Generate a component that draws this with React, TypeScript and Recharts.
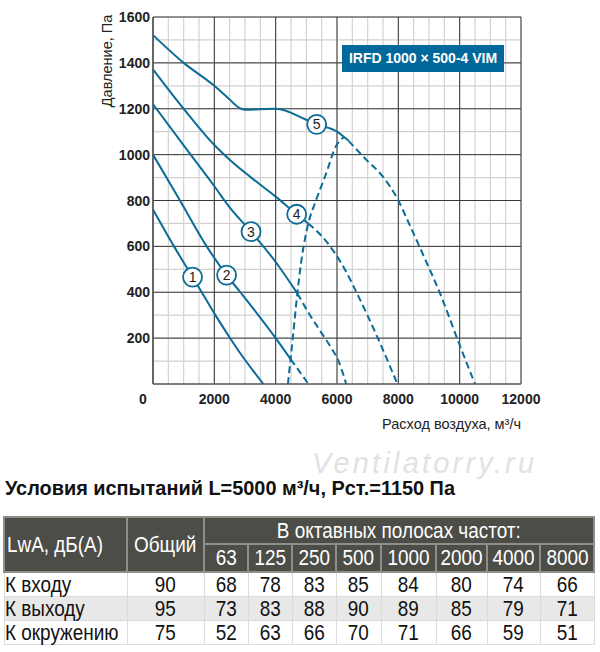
import { LineChart, Line, XAxis, YAxis, CartesianGrid, ReferenceDot } from "recharts";

// fan curves, airflow q (m3/h) vs static pressure p (Pa)
const curve1 = [
  { q: 0, p: 761 }, { q: 685, p: 600 }, { q: 1290, p: 466 }, { q: 1590, p: 400 },
  { q: 2000, p: 308 }, { q: 2500, p: 203 }, { q: 2840, p: 135 }, { q: 3600, p: 0 },
];
const curve2Solid = [
  { q: 0, p: 1000 }, { q: 880, p: 800 }, { q: 1750, p: 600 }, { q: 2400, p: 475 },
  { q: 2848, p: 400 }, { q: 4000, p: 200 }, { q: 4490, p: 108 },
];
const curve2Dash = [{ q: 4490, p: 108 }, { q: 4780, p: 54 }, { q: 5070, p: 0 }];
const curve3Solid = [
  { q: 0, p: 1220 }, { q: 1000, p: 1040 }, { q: 2000, p: 862 }, { q: 2500, p: 770 },
  { q: 3196, p: 664 }, { q: 4000, p: 532 }, { q: 4707, p: 395 },
];
const curve3Dash = [
  { q: 4707, p: 395 }, { q: 5120, p: 300 }, { q: 5500, p: 222 }, { q: 5800, p: 160 },
  { q: 6050, p: 100 }, { q: 6300, p: 0 },
];
const curve4Solid = [
  { q: 0, p: 1372 }, { q: 1000, p: 1200 }, { q: 2000, p: 1042 }, { q: 2500, p: 978 },
  { q: 3163, p: 904 }, { q: 4000, p: 817 }, { q: 4685, p: 740 }, { q: 5065, p: 700 },
];
const curve4Dash = [
  { q: 5065, p: 700 }, { q: 5500, p: 645 }, { q: 5935, p: 570 }, { q: 6300, p: 489 },
  { q: 6641, p: 398 }, { q: 7348, p: 195 }, { q: 7970, p: 0 },
];
const curve5Solid = [
  { q: 0, p: 1521 }, { q: 1000, p: 1400 }, { q: 2000, p: 1300 }, { q: 2500, p: 1240 },
  { q: 2800, p: 1205 }, { q: 3000, p: 1196 }, { q: 3500, p: 1198 }, { q: 4000, p: 1200 },
  { q: 5000, p: 1152 }, { q: 5337, p: 1132 }, { q: 6000, p: 1100 }, { q: 6230, p: 1077 },
  { q: 6380, p: 1060 },
];
const curve5Dash = [
  { q: 6380, p: 1060 }, { q: 6967, p: 976 }, { q: 7456, p: 911 }, { q: 8000, p: 800 },
  { q: 8272, p: 722 }, { q: 8800, p: 566 }, { q: 9360, p: 395 }, { q: 9980, p: 177 },
  { q: 10500, p: 0 },
];
const limitDash = [
  { q: 4400, p: 0 }, { q: 4550, p: 190 }, { q: 4707, p: 395 }, { q: 4830, p: 530 },
  { q: 5065, p: 700 }, { q: 5300, p: 795 }, { q: 5609, p: 904 }, { q: 5989, p: 1042 },
  { q: 6230, p: 1077 },
];

const markers = [
  { id: "1", q: 1290, p: 466 },
  { id: "2", q: 2400, p: 475 },
  { id: "3", q: 3196, p: 664 },
  { id: "4", q: 4685, p: 740 },
  { id: "5", q: 5337, p: 1132 },
];

const xTicks = [0, 2000, 4000, 6000, 8000, 10000, 12000];
const yTicks = [200, 400, 600, 800, 1000, 1200, 1400, 1600];
const xMinor = Array.from({ length: 24 }, (_, i) => (i + 1) * 500);
const yMinor = Array.from({ length: 16 }, (_, i) => (i + 1) * 100);

// noise table
const bands = ["63", "125", "250", "500", "1000", "2000", "4000", "8000"];
const rowNames = ["К входу", "К выходу", "К окружению"];
const totals = [90, 95, 75];
const inletLevels = [68, 78, 83, 85, 84, 80, 74, 66];
const outletLevels = [73, 83, 88, 90, 89, 85, 79, 71];
const ambientLevels = [52, 63, 66, 70, 71, 66, 59, 51];
const levels = [inletLevels, outletLevels, ambientLevels];
const colWidths = [123, 77, 44, 44, 44, 45, 55, 51, 53, 54];

const blue = "#0b6c97";
const sans = "'Liberation Sans', Arial, sans-serif";

const XTick = (props: any) => {
  const { x, y, payload } = props;
  const dx = payload.value === 0 ? -10 : 0;
  return (
    <text x={x + dx} y={y} dy="0.71em" textAnchor="middle" fontSize={14} fontWeight="bold" fontFamily={sans} fill="#222">
      {payload.value}
    </text>
  );
};

const YTick = (props: any) => {
  const { x, y, payload } = props;
  return (
    <text x={x} y={y} dy="0.36em" textAnchor="end" fontSize={14} fontWeight="bold" fontFamily={sans} fill="#222">
      {payload.value}
    </text>
  );
};

// condensed look: squeeze a normal sans horizontally
const Cond = ({ children, origin = "center" }: any) => (
  <span style={{ display: "inline-block", transform: "scaleX(0.86)", transformOrigin: origin, whiteSpace: "nowrap" }}>
    {children}
  </span>
);

const head = {
  background: "#4d4d48",
  color: "#fff",
  border: "2px solid #8e8e8a",
  fontWeight: "normal" as const,
  padding: 0,
  overflow: "visible",
};
const cell = { border: "1px solid #dcdcdc", padding: 0, textAlign: "center" as const, lineHeight: "23px", overflow: "visible" };

export default function App() {
  const solid = (data: any[], key: string) => (
    <Line key={key} data={data} dataKey="p" type="monotone" stroke={blue} strokeWidth={2} dot={false} isAnimationActive={false} />
  );
  const dashed = (data: any[], key: string) => (
    <Line key={key} data={data} dataKey="p" type="monotone" stroke={blue} strokeWidth={2} strokeDasharray="7 4" dot={false} isAnimationActive={false} />
  );

  return (
    <div style={{ position: "absolute", left: 0, top: 0, width: 600, height: 652, background: "#fff", overflow: "hidden" }}>
      <LineChart width={600} height={440} margin={{ top: 17, right: 79, bottom: 26, left: 0 }}>
        <CartesianGrid stroke="#d2d2d2" strokeWidth={1.2} verticalValues={xMinor} horizontalValues={yMinor} />
        <CartesianGrid stroke="#383838" strokeWidth={1} verticalValues={xTicks} horizontalValues={yTicks} />
        <XAxis
          dataKey="q"
          type="number"
          domain={[0, 12000]}
          ticks={xTicks}
          interval={0}
          tickLine={false}
          tickSize={8}
          tickMargin={2}
          height={30}
          axisLine={{ stroke: "#555", strokeWidth: 1.5 }}
          tick={<XTick />}
        />
        <YAxis
          type="number"
          domain={[0, 1600]}
          ticks={yTicks}
          interval={0}
          tickLine={false}
          tickSize={3}
          tickMargin={0}
          width={153}
          axisLine={{ stroke: "#555", strokeWidth: 1.5 }}
          tick={<YTick />}
        />
        {solid(curve1, "c1")}
        {solid(curve2Solid, "c2")}
        {dashed(curve2Dash, "c2d")}
        {solid(curve3Solid, "c3")}
        {dashed(curve3Dash, "c3d")}
        {solid(curve4Solid, "c4")}
        {dashed(curve4Dash, "c4d")}
        {solid(curve5Solid, "c5")}
        {dashed(curve5Dash, "c5d")}
        {dashed(limitDash, "lim")}
        {markers.map((m) => (
          <ReferenceDot
            key={m.id}
            x={m.q}
            y={m.p}
            r={9.5}
            fill="#fff"
            stroke={blue}
            strokeWidth={1.8}
            label={{ value: m.id, position: "center", fill: "#222", fontSize: 14, fontFamily: sans }}
          />
        ))}
      </LineChart>

      <div
        style={{
          position: "absolute", left: 342, top: 45, width: 162, height: 27, background: "#00689a",
          color: "#fff", fontFamily: sans, fontWeight: "bold", fontSize: 14, lineHeight: "27px", textAlign: "center",
          whiteSpace: "nowrap",
        }}
      >
        IRFD 1000 × 500-4 VIM
      </div>
      <div
        style={{
          position: "absolute", left: 107, top: 61, transform: "translate(-50%, -50%) rotate(-90deg)",
          whiteSpace: "nowrap", fontFamily: sans, fontSize: 14.5, color: "#222",
        }}
      >
        Давление, Па
      </div>
      <div style={{ position: "absolute", right: 79, top: 416, whiteSpace: "nowrap", fontFamily: sans, fontSize: 14.5, color: "#222" }}>
        Расход воздуха, м³/ч
      </div>

      <div
        style={{
          position: "absolute", left: 312, top: 449, fontFamily: sans, fontStyle: "italic", fontSize: 29, lineHeight: "29px",
          letterSpacing: 3.2, color: "#e2e2e2", whiteSpace: "nowrap",
        }}
      >
        Ventilatorry.ru
      </div>
      <svg style={{ position: "absolute", left: 0, top: 474 }} width={600} height={28}>
        <text x={5} y={21} textLength={450} lengthAdjust="spacingAndGlyphs" fontFamily={sans} fontWeight="bold" fontSize={20.5} fill="#111">
          Условия испытаний L=5000 м³/ч, Рст.=1150 Па
        </text>
      </svg>

      <table
        style={{
          position: "absolute", left: 3, top: 516, width: 590, borderCollapse: "collapse", tableLayout: "fixed",
          fontFamily: sans, fontSize: 22, color: "#111",
        }}
      >
        <colgroup>
          {colWidths.map((w, i) => (
            <col key={i} style={{ width: w }} />
          ))}
        </colgroup>
        <thead>
          <tr style={{ height: 27 }}>
            <th rowSpan={2} style={{ ...head, textAlign: "left", paddingLeft: 2 }}>
              <Cond origin="left">LwA, дБ(А)</Cond>
            </th>
            <th rowSpan={2} style={head}>
              <Cond>Общий</Cond>
            </th>
            <th colSpan={8} style={{ ...head, lineHeight: "25px" }}>
              <Cond>В октавных полосах частот:</Cond>
            </th>
          </tr>
          <tr style={{ height: 28 }}>
            {bands.map((b) => (
              <th key={b} style={{ ...head, lineHeight: "26px" }}>
                <Cond>{b}</Cond>
              </th>
            ))}
          </tr>
        </thead>
        <tbody>
          {rowNames.map((name, i) => (
            <tr key={name} style={{ height: 24, background: i === 1 ? "#e8e8e8" : "#fff" }}>
              <td style={{ ...cell, textAlign: "left", whiteSpace: "nowrap" }}>
                <Cond origin="left">{name}</Cond>
              </td>
              <td style={cell}>
                <Cond>{totals[i]}</Cond>
              </td>
              {levels[i].map((v, j) => (
                <td key={j} style={cell}>
                  <Cond>{v}</Cond>
                </td>
              ))}
            </tr>
          ))}
        </tbody>
      </table>
    </div>
  );
}
